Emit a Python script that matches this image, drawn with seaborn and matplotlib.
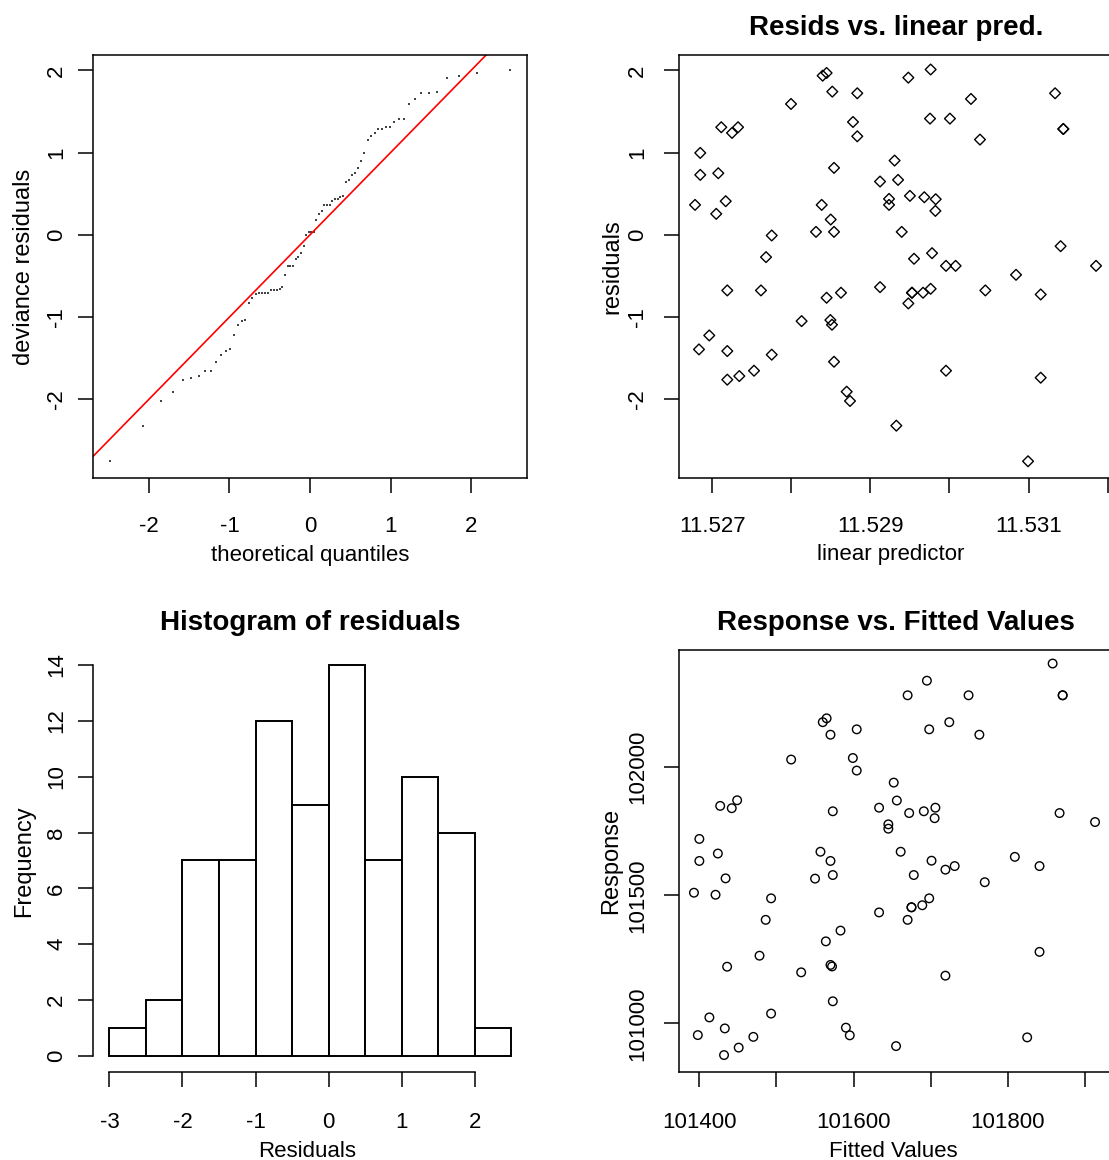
import statistics
import numpy as np
import pandas as pd
import matplotlib
matplotlib.use("Agg")
import matplotlib.pyplot as plt
import seaborn as sns

lin_pred = [11.528396, 11.528446, 11.529762, 11.529480, 11.528518, 11.528834, 11.527996,
            11.530272, 11.531336, 11.527114, 11.527250, 11.527326, 11.528780, 11.528834,
            11.529754, 11.530006, 11.530386, 11.531440, 11.531440, 11.526848, 11.526848,
            11.527076, 11.528540, 11.529306, 11.529122, 11.529350, 11.526782, 11.527170,
            11.527050, 11.528384, 11.529236, 11.529236, 11.529500, 11.529682, 11.529826,
            11.529822, 11.528498, 11.528312, 11.528540, 11.527752, 11.529396, 11.527680,
            11.531406, 11.529552, 11.529780, 11.529956, 11.530078, 11.531854, 11.530842,
            11.527190, 11.527616, 11.529122, 11.528446, 11.528628, 11.529526, 11.529526,
            11.529666, 11.529762, 11.529480, 11.530454, 11.531154, 11.528130, 11.528494,
            11.528514, 11.526962, 11.526832, 11.527190, 11.527752, 11.528540, 11.527190,
            11.527342, 11.527528, 11.529956, 11.531154, 11.528700, 11.528742, 11.529328,
            11.530994]

residuals = [1.935, 1.968, 2.010, 1.911, 1.741, 1.721, 1.591, 1.652, 1.721, 1.308, 1.239,
             1.308, 1.372, 1.198, 1.413, 1.413, 1.158, 1.287, 1.287, 0.996, 0.729, 0.749,
             0.814, 0.903, 0.648, 0.668, 0.364, 0.409, 0.255, 0.364, 0.437, 0.364, 0.474,
             0.457, 0.433, 0.291, 0.186, 0.036, 0.036, -0.008, 0.036, -0.271, -0.138,
             -0.291, -0.223, -0.377, -0.377, -0.377, -0.486, -0.676, -0.676, -0.636,
             -0.765, -0.704, -0.704, -0.704, -0.704, -0.656, -0.834, -0.676, -0.725,
             -1.049, -1.036, -1.093, -1.223, -1.393, -1.413, -1.457, -1.543, -1.761,
             -1.717, -1.652, -1.652, -1.737, -1.907, -2.020, -2.320, -2.753]

fitted = [101560, 101565, 101695, 101670, 101570, 101604, 101519, 101749, 101858, 101427,
          101442, 101449, 101599, 101604, 101698, 101724, 101763, 101871, 101871, 101400,
          101400, 101424, 101573, 101652, 101633, 101656, 101393, 101434, 101421, 101557,
          101645, 101645, 101672, 101691, 101706, 101705, 101570, 101550, 101573, 101493,
          101661, 101486, 101867, 101678, 101701, 101719, 101731, 101913, 101809, 101436,
          101478, 101633, 101564, 101583, 101675, 101675, 101689, 101698, 101670, 101770,
          101841, 101532, 101570, 101572, 101413, 101398, 101433, 101493, 101573, 101432,
          101451, 101470, 101719, 101841, 101590, 101595, 101655, 101825]

response = [102176, 102191, 102338, 102281, 102127, 102148, 102030, 102281, 102405, 101849,
            101840, 101871, 102036, 101987, 102148, 102176, 102127, 102281, 102281, 101720,
            101634, 101663, 101828, 101940, 101842, 101870, 101510, 101566, 101502, 101670,
            101777, 101760, 101821, 101828, 101842, 101801, 101634, 101565, 101579, 101488,
            101670, 101404, 101821, 101579, 101635, 101600, 101614, 101786, 101650, 101221,
            101264, 101433, 101320, 101362, 101453, 101453, 101461, 101488, 101404, 101551,
            101614, 101199, 101228, 101222, 101023, 100954, 100980, 101038, 101086, 100876,
            100905, 100947, 101186, 101279, 100983, 100953, 100911, 100945]

hist_breaks = [-3.0, -2.5, -2.0, -1.5, -1.0, -0.5, 0.0, 0.5, 1.0, 1.5, 2.0, 2.5]

df = pd.DataFrame({"lin_pred": lin_pred, "resid": residuals,
                   "fitted": fitted, "response": response})

# qq data: sorted residuals against normal quantiles
n = len(df)
nd = statistics.NormalDist()
qq = pd.DataFrame({
    "theo": [nd.inv_cdf((i + 0.5) / n) for i in range(n)],
    "dev": sorted(residuals),
})

sns.set_theme(style="ticks")
plt.rcParams["font.family"] = ["Liberation Sans", "DejaVu Sans"]
plt.rcParams["axes.unicode_minus"] = False
plt.rcParams["text.color"] = "black"
plt.rcParams["axes.labelcolor"] = "black"
plt.rcParams["axes.titlecolor"] = "black"

W, H = 1109, 1160
fig = plt.figure(figsize=(W / 100, H / 100), dpi=100)


def rect(l, t, r, b):
    return [l / W, 1 - b / H, (r - l) / W, (b - t) / H]


def style_axes(ax, xpad, ypad, box=True):
    for side in ["left", "right", "top", "bottom"]:
        ax.spines[side].set_color("black")
        ax.spines[side].set_linewidth(1.1)
        ax.spines[side].set_visible(box or side in ("left", "bottom"))
    ax.tick_params(direction="out", length=10.8, width=1.1, color="black",
                   labelsize=16, labelcolor="black")
    ax.tick_params(axis="x", pad=xpad)
    ax.tick_params(axis="y", pad=ypad, labelrotation=90)
    for lbl in ax.get_yticklabels():
        lbl.set_va("center")
    ax.set_xlabel("")
    ax.set_ylabel("")


def label(x, y, s, rot=0, **kw):
    fig.text(x / W, 1 - y / H, s, rotation=rot, ha="center", color="black",
             va="center" if rot else "baseline", fontsize=17 if rot else 16, **kw)


# top left: qq plot
ax1 = fig.add_axes(rect(93.3, 54.7, 526.7, 478.3))
sns.scatterplot(data=qq, x="theo", y="dev", ax=ax1, marker="s", s=2.0,
                color="#444444", linewidth=0)
ax1.axline((0, 0), slope=1, color="red", lw=1.2)
ax1.set_xlim(-2.69, 2.69)
ax1.set_ylim(-2.96, 2.19)
ax1.set_xticks([-2, -1, 0, 1, 2])
ax1.set_yticks([-2, -1, 0, 1, 2])
style_axes(ax1, 16.3, 8)
label(310, 561, "theoretical quantiles")
label(24, 266.5, "deviance residuals", rot=90)

# top right: residuals vs linear predictor
ax2 = fig.add_axes(rect(679.3, 54.7, 1112.8, 478.3))
sns.scatterplot(data=df, x="lin_pred", y="resid", ax=ax2, marker="D", s=30,
                facecolor="none", edgecolor="black", linewidth=1.0)
ax2.set_xlim(11.526583, 11.532066)
ax2.set_ylim(-2.96, 2.19)
ax2.set_xticks([11.527, 11.528, 11.529, 11.530, 11.531, 11.532])
ax2.set_xticklabels(["11.527", "", "11.529", "", "11.531", ""])
ax2.set_yticks([-2, -1, 0, 1, 2])
style_axes(ax2, 16.3, 11.5)
ax2.set_title("Resids vs. linear pred.", fontsize=20, fontweight="bold", pad=14)
label(891, 560, "linear predictor")
label(612, 266.5, "residuals", rot=90)

# bottom left: histogram
ax3 = fig.add_axes(rect(93.3, 649.7, 526.7, 1071.7))
sns.histplot(x=residuals, bins=hist_breaks, ax=ax3, color="white", alpha=1,
             edgecolor="black", linewidth=1.4)
ax3.set_xlim(-3.22, 2.71)
ax3.set_ylim(-0.57, 14.55)
ax3.set_xticks([-3, -2, -1, 0, 1, 2])
ax3.set_yticks([0, 2, 4, 6, 8, 10, 12, 14])
style_axes(ax3, 18, 8, box=False)
ax3.spines["left"].set_bounds(0, 14)
ax3.spines["bottom"].set_bounds(-3, 2)
ax3.set_title("Histogram of residuals", fontsize=20, fontweight="bold", pad=14)
label(307, 1157, "Residuals")
label(24, 860.7, "Frequency", rot=90)

# bottom right: response vs fitted
ax4 = fig.add_axes(rect(679.3, 649.7, 1112.8, 1071.7))
sns.scatterplot(data=df, x="fitted", y="response", ax=ax4, marker="o", s=38,
                facecolor="none", edgecolor="black", linewidth=1.0)
ax4.set_xlim(101374, 101936)
ax4.set_ylim(100811, 102459)
ax4.set_xticks([101400, 101500, 101600, 101700, 101800, 101900])
ax4.set_xticklabels(["101400", "", "101600", "", "101800", ""])
ax4.set_yticks([101000, 101500, 102000])
ax4.set_yticklabels(["101000", "101500", "102000"])
style_axes(ax4, 18, 11.5)
ax4.set_title("Response vs. Fitted Values", fontsize=20, fontweight="bold", pad=14)
label(893, 1157, "Fitted Values")
label(611, 860.7, "Response", rot=90)

fig.savefig("out.png", dpi=100)
